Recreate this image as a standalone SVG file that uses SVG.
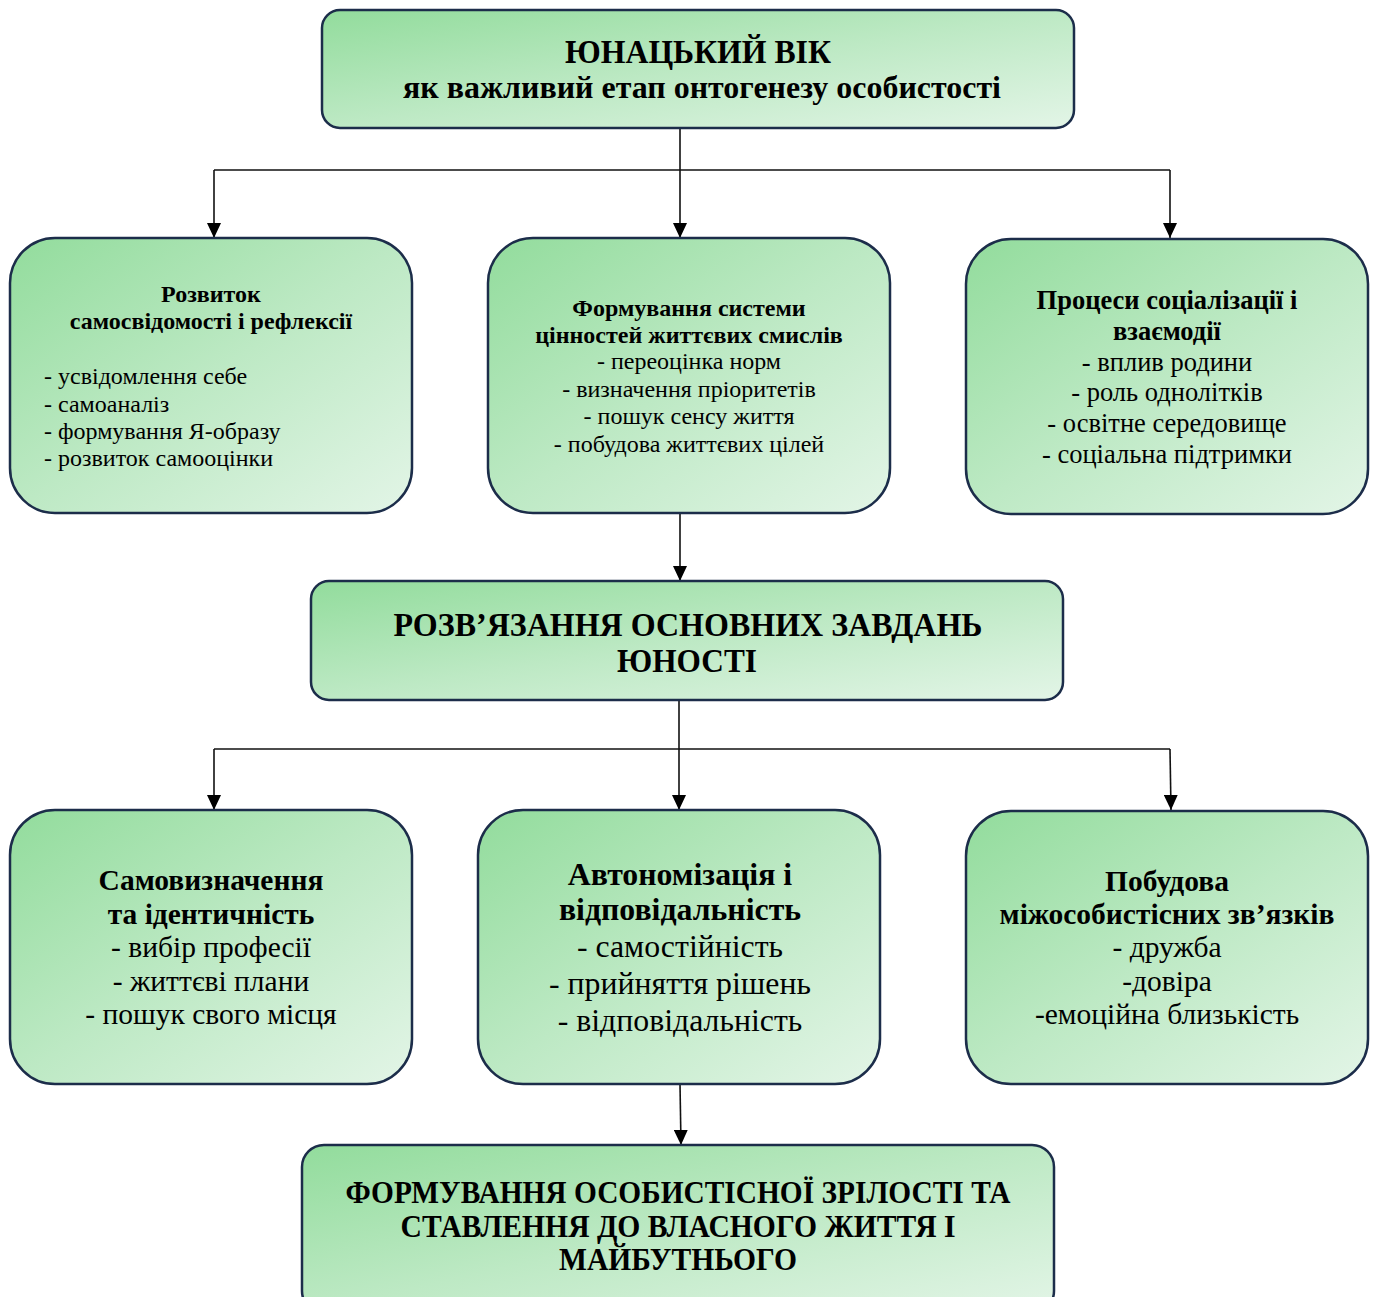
<svg xmlns="http://www.w3.org/2000/svg" width="1373" height="1297" viewBox="0 0 1373 1297">
<defs>
<linearGradient id="g" x1="0" y1="0" x2="1" y2="1">
<stop offset="0" stop-color="#92dc9c"/>
<stop offset="0.5" stop-color="#bde9c4"/>
<stop offset="1" stop-color="#e3f5e7"/>
</linearGradient>
<marker id="ah" markerUnits="userSpaceOnUse" markerWidth="16" markerHeight="14" refX="15" refY="7" orient="auto" viewBox="0 0 16 14">
<path d="M0,0 L15,7 L0,14 Z" fill="#000"/>
</marker>
<style>
.box{fill:url(#g);stroke:#1c2d4a;stroke-width:2.5}
.t{font-family:"Liberation Serif","Times New Roman",serif;fill:#000;text-anchor:middle}
.b{font-weight:bold}
.l{text-anchor:start}
.c{fill:none;stroke:#111;stroke-width:1.6}
</style>
</defs>
<rect width="1373" height="1297" fill="#fff"/>
<g id="connectors">
<path class="c" d="M680,128 V170"/>
<path class="c" d="M214,170 H1170"/>
<path class="c" d="M680,170 V238" marker-end="url(#ah)"/>
<path class="c" d="M214,170 V238" marker-end="url(#ah)"/>
<path class="c" d="M1170,170 V238" marker-end="url(#ah)"/>
<path class="c" d="M680,514 V581" marker-end="url(#ah)"/>
<path class="c" d="M679,700 V749"/>
<path class="c" d="M214,749 H1170"/>
<path class="c" d="M679,749 V810" marker-end="url(#ah)"/>
<path class="c" d="M214,749 V810" marker-end="url(#ah)"/>
<path class="c" d="M1170,749 L1171,810" marker-end="url(#ah)"/>
<path class="c" d="M680,1084 L681,1145" marker-end="url(#ah)"/>
</g>
<g id="n-top">
<rect class="box" x="322" y="10" width="752" height="118" rx="18"/>
<text class="t b" x="698" y="63" font-size="33" textLength="266" lengthAdjust="spacingAndGlyphs">ЮНАЦЬКИЙ ВІК</text>
<text class="t b" x="702" y="98" font-size="31" textLength="598" lengthAdjust="spacingAndGlyphs">як важливий етап онтогенезу особистості</text>
</g>
<g id="n-self">
<rect class="box" x="10" y="238" width="402" height="275" rx="45"/>
<text class="t b" x="211" y="302" font-size="24">Розвиток</text>
<text class="t b" x="211" y="329" font-size="24">самосвідомості і рефлексії</text>
<text class="t l" x="44" y="384" font-size="24">- усвідомлення себе</text>
<text class="t l" x="44" y="412" font-size="24">- самоаналіз</text>
<text class="t l" x="44" y="439" font-size="24">- формування Я-образу</text>
<text class="t l" x="44" y="466" font-size="24">- розвиток самооцінки</text>
</g>
<g id="n-values">
<rect class="box" x="488" y="238" width="402" height="275" rx="45"/>
<text class="t b" x="689" y="316" font-size="24">Формування системи</text>
<text class="t b" x="689" y="343" font-size="24">цінностей життєвих смислів</text>
<text class="t" x="689" y="369" font-size="24">- переоцінка норм</text>
<text class="t" x="689" y="397" font-size="24">- визначення пріоритетів</text>
<text class="t" x="689" y="424" font-size="24">- пошук сенсу життя</text>
<text class="t" x="689" y="452" font-size="24">- побудова життєвих цілей</text>
</g>
<g id="n-social">
<rect class="box" x="966" y="239" width="402" height="275" rx="45"/>
<text class="t b" x="1167" y="309" font-size="26.5">Процеси соціалізації і</text>
<text class="t b" x="1167" y="340" font-size="26.5">взаємодії</text>
<text class="t" x="1167" y="371" font-size="26.5">- вплив родини</text>
<text class="t" x="1167" y="401" font-size="26.5">- роль однолітків</text>
<text class="t" x="1167" y="432" font-size="26.5">- освітне середовище</text>
<text class="t" x="1167" y="463" font-size="26.5">- соціальна підтримки</text>
</g>
<g id="n-tasks">
<rect class="box" x="311" y="581" width="752" height="119" rx="18"/>
<text class="t b" x="688" y="636" font-size="33" textLength="589" lengthAdjust="spacingAndGlyphs">РОЗВ’ЯЗАННЯ ОСНОВНИХ ЗАВДАНЬ</text>
<text class="t b" x="687" y="672" font-size="33" textLength="140" lengthAdjust="spacingAndGlyphs">ЮНОСТІ</text>
</g>
<g id="n-identity">
<rect class="box" x="10" y="810" width="402" height="274" rx="45"/>
<text class="t b" x="211" y="890" font-size="29.5">Самовизначення</text>
<text class="t b" x="211" y="924" font-size="29.5">та ідентичність</text>
<text class="t" x="211" y="957" font-size="29.5">- вибір професії</text>
<text class="t" x="211" y="991" font-size="29.5">- життєві плани</text>
<text class="t" x="211" y="1024" font-size="29.5">- пошук свого місця</text>
</g>
<g id="n-autonomy">
<rect class="box" x="478" y="810" width="402" height="274" rx="45"/>
<text class="t b" x="680" y="885" font-size="31.8">Автономізація і</text>
<text class="t b" x="680" y="920" font-size="31.8">відповідальність</text>
<text class="t" x="680" y="957" font-size="31.8">- самостійність</text>
<text class="t" x="680" y="994" font-size="31.8">- прийняття рішень</text>
<text class="t" x="680" y="1031" font-size="31.8">- відповідальність</text>
</g>
<g id="n-relations">
<rect class="box" x="966" y="811" width="402" height="273" rx="45"/>
<text class="t b" x="1167" y="891" font-size="29.5">Побудова</text>
<text class="t b" x="1167" y="924" font-size="29.5">міжособистісних зв’язків</text>
<text class="t" x="1167" y="957" font-size="29.5">- дружба</text>
<text class="t" x="1167" y="991" font-size="29.5">-довіра</text>
<text class="t" x="1167" y="1024" font-size="29.5">-емоційна близькість</text>
</g>
<g id="n-maturity">
<rect class="box" x="302" y="1145" width="752" height="168" rx="22"/>
<text class="t b" x="678" y="1203" font-size="32" textLength="665" lengthAdjust="spacingAndGlyphs">ФОРМУВАННЯ ОСОБИСТІСНОЇ ЗРІЛОСТІ ТА</text>
<text class="t b" x="678" y="1237" font-size="32" textLength="555" lengthAdjust="spacingAndGlyphs">СТАВЛЕННЯ ДО ВЛАСНОГО ЖИТТЯ І</text>
<text class="t b" x="678" y="1270" font-size="32" textLength="238" lengthAdjust="spacingAndGlyphs">МАЙБУТНЬОГО</text>
</g>
</svg>
